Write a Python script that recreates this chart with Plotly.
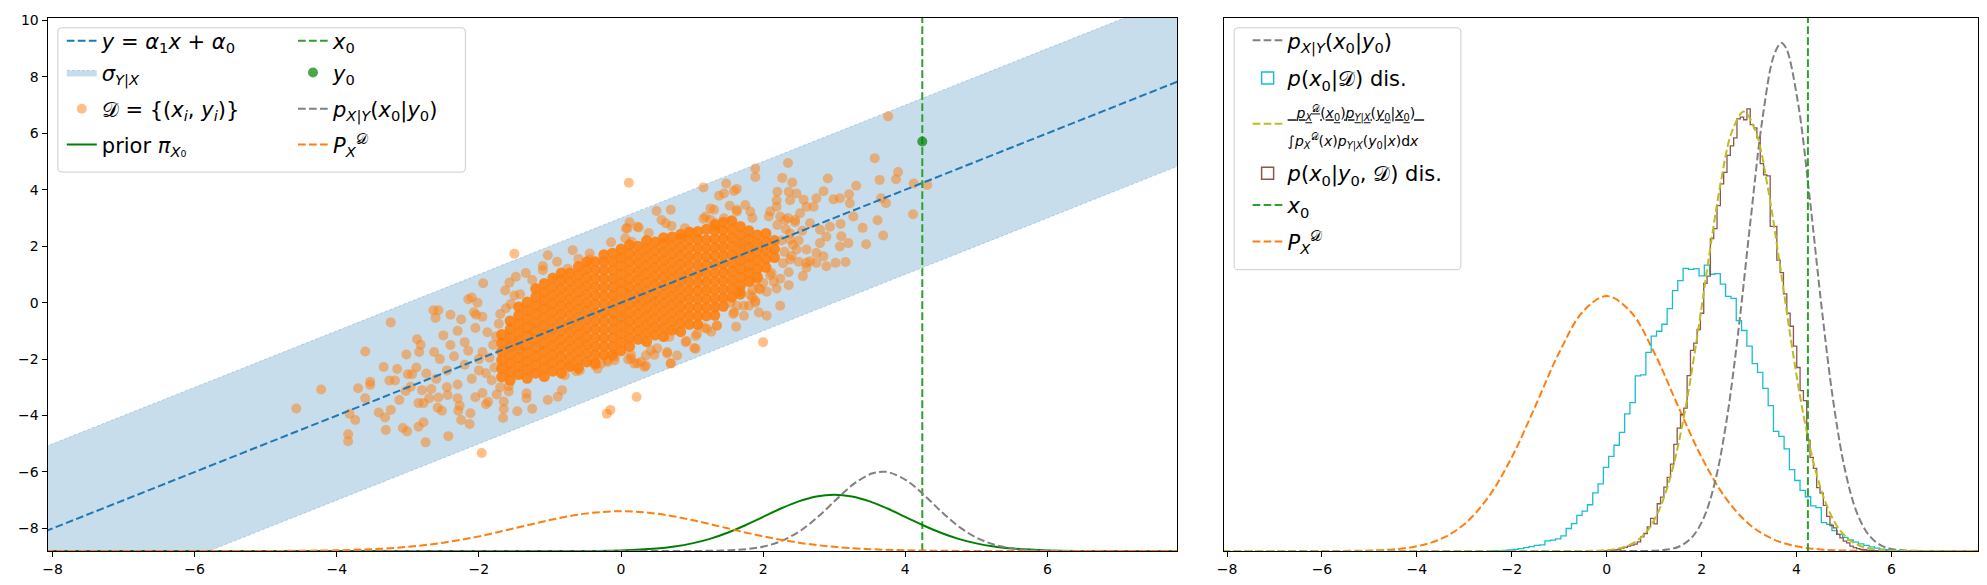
import plotly.graph_objects as go

# ---------------- data ----------------
X_RANGE = [-8.07, 7.83]
LEFT_Y_RANGE = [-8.8, 10.1]
RIGHT_Y_RANGE = [0.0, 0.59]
X_TICKS = [-8, -6, -4, -2, 0, 2, 4, 6]
LEFT_Y_TICKS = [-8, -6, -4, -2, 0, 2, 4, 6, 8, 10]

# regression line y = a1 x + a0 and +/- sigma band (end points)
line_x = [-8.1, 7.9]
line_y = [-8.1, 7.9]
band_x = [-8.1, 7.9, 7.9, -8.1]
band_y = [-5.1, 10.9, 4.9, -11.1]

# observed point
x0_value = 4.24
y0_value = 5.71

# dense core of the data cloud (columns of points)
core_col_x = [-1.68, -1.56, -1.44, -1.32, -1.2, -1.08, -0.96, -0.84, -0.72, -0.6, -0.48,
              -0.36, -0.24, -0.12, 0.0, 0.12, 0.24, 0.36, 0.48, 0.6, 0.72, 0.84, 0.96,
              1.08, 1.2, 1.32, 1.44, 1.56, 1.68, 1.8, 1.92, 2.04, 2.16]
core_col_y = [
    [-2.63, -2.33, -2.03, -1.73, -1.43, -1.13],
    [-2.75, -2.45, -2.15, -1.85, -1.55, -1.25, -0.95, -0.65],
    [-2.55, -2.25, -1.95, -1.65, -1.35, -1.05, -0.75, -0.45, -0.15],
    [-2.68, -2.38, -2.08, -1.78, -1.48, -1.18, -0.88, -0.58, -0.28, 0.02],
    [-2.5, -2.2, -1.9, -1.6, -1.3, -1.0, -0.7, -0.4, -0.1, 0.2, 0.5],
    [-2.62, -2.32, -2.02, -1.72, -1.42, -1.12, -0.82, -0.52, -0.22, 0.08, 0.38, 0.68],
    [-2.43, -2.13, -1.83, -1.53, -1.23, -0.93, -0.63, -0.33, -0.03, 0.27, 0.57, 0.87],
    [-2.5, -2.2, -1.9, -1.6, -1.3, -1.0, -0.7, -0.4, -0.1, 0.2, 0.5, 0.8, 1.05],
    [-2.25, -1.95, -1.65, -1.35, -1.05, -0.75, -0.45, -0.15, 0.15, 0.45, 0.75, 1.05],
    [-2.32, -2.02, -1.72, -1.42, -1.12, -0.82, -0.52, -0.22, 0.08, 0.38, 0.68, 0.98, 1.28],
    [-2.1, -1.8, -1.5, -1.2, -0.9, -0.6, -0.3, 0.0, 0.3, 0.6, 0.9, 1.2, 1.45],
    [-2.15, -1.85, -1.55, -1.25, -0.95, -0.65, -0.35, -0.05, 0.25, 0.55, 0.85, 1.15, 1.45],
    [-1.85, -1.55, -1.25, -0.95, -0.65, -0.35, -0.05, 0.25, 0.55, 0.85, 1.15, 1.45, 1.7],
    [-1.85, -1.55, -1.25, -0.95, -0.65, -0.35, -0.05, 0.25, 0.55, 0.85, 1.15, 1.45, 1.75],
    [-1.7, -1.4, -1.1, -0.8, -0.5, -0.2, 0.1, 0.4, 0.7, 1.0, 1.3, 1.6, 1.9],
    [-1.55, -1.25, -0.95, -0.65, -0.35, -0.05, 0.25, 0.55, 0.85, 1.15, 1.45, 1.75, 2.05],
    [-1.3, -1.0, -0.7, -0.4, -0.1, 0.2, 0.5, 0.8, 1.1, 1.4, 1.7, 2.0],
    [-1.38, -1.08, -0.78, -0.48, -0.18, 0.12, 0.42, 0.72, 1.02, 1.32, 1.62, 1.92, 2.2],
    [-1.15, -0.85, -0.55, -0.25, 0.05, 0.35, 0.65, 0.95, 1.25, 1.55, 1.85, 2.15],
    [-1.2, -0.9, -0.6, -0.3, 0.0, 0.3, 0.6, 0.9, 1.2, 1.5, 1.8, 2.1, 2.3],
    [-0.97, -0.67, -0.37, -0.07, 0.23, 0.53, 0.83, 1.13, 1.43, 1.73, 2.03, 2.33],
    [-1.03, -0.73, -0.43, -0.13, 0.17, 0.47, 0.77, 1.07, 1.37, 1.67, 1.97, 2.27, 2.42],
    [-0.77, -0.47, -0.17, 0.13, 0.43, 0.73, 1.03, 1.33, 1.63, 1.93, 2.23, 2.5],
    [-0.78, -0.48, -0.18, 0.12, 0.42, 0.72, 1.02, 1.32, 1.62, 1.92, 2.22, 2.52],
    [-0.47, -0.17, 0.13, 0.43, 0.73, 1.03, 1.33, 1.63, 1.93, 2.23, 2.6],
    [-0.45, -0.15, 0.15, 0.45, 0.75, 1.05, 1.35, 1.65, 1.95, 2.25, 2.55, 2.75],
    [-0.13, 0.17, 0.47, 0.77, 1.07, 1.37, 1.67, 1.97, 2.27, 2.57, 2.85],
    [0.2, 0.5, 0.8, 1.1, 1.4, 1.7, 2.0, 2.3, 2.6, 2.9],
    [0.3, 0.6, 0.9, 1.2, 1.5, 1.8, 2.1, 2.4, 2.7],
    [0.75, 1.05, 1.35, 1.65, 1.95, 2.25, 2.55],
    [0.9, 1.2, 1.5, 1.8, 2.1, 2.4],
    [1.25, 1.55, 1.85, 2.15, 2.45],
    [1.6, 1.9, 2.2],
]

# individual (outer) data points
fringe_points = [
    (0.11, 4.25), (-1.5, 1.73), (-3.24, -0.70), (-3.60, -1.73), (-4.22, -3.08), (-4.57, -3.75),
    (-3.70, -3.03), (-3.53, -2.80), (-3.53, -2.92), (-3.60, -3.39), (-3.82, -3.94), (-3.74, -4.16),
    (-3.84, -4.66), (-3.84, -4.91), (-3.34, -2.28), (-3.26, -2.76), (-3.18, -2.76), (-3.15, -2.35),
    (-3.41, -3.89), (-3.32, -4.07), (-3.31, -4.51), (-3.24, -3.80), (-3.07, -4.44), (-3.01, -4.56),
    (-2.85, -4.40), (-2.78, -4.24), (-2.75, -4.95), (-2.43, -4.73), (-1.96, -5.33), (-2.13, -4.30),
    (-2.25, -4.16), (-1.66, -4.09), (-1.46, -3.85), (-1.25, -3.76), (-1.65, -3.77), (-1.65, -3.50),
    (-0.20, -3.94), (-0.15, -3.80), (0.22, -3.34), (-1.94, 0.69), (-2.64, -0.27), (-2.57, -0.27),
    (-2.61, -0.54), (-2.40, -0.43), (-2.15, 0.12), (-2.10, 0.18), (-2.07, -0.34), (-2.04, -0.43),
    (-2.02, 0.0), (-1.03, 1.68), (-0.68, 1.86), (-0.44, 1.74), (-0.44, 1.53), (0.12, 2.85),
    (0.09, 2.64), (-0.14, 2.14), (-1.1, 1.30), (-1.1, 1.15), (-1.48, 0.92), (-1.34, 1.05),
    (-1.57, 0.71), (-1.63, 0.43), (-2.87, -1.30), (-2.82, -1.49), (-2.84, -1.75), (-3.02, -1.84),
    (-2.63, -1.75), (-2.50, -1.16), (-3.0, -2.54), (-2.94, -2.54), (-2.88, -2.30), (-3.03, -3.13),
    (-2.96, -2.98), (-2.80, -3.10), (-2.67, -3.06), (-2.74, -2.51), (-3.12, -3.45), (-2.85, -3.56),
    (-2.78, -3.56), (-2.70, -3.39), (-2.57, -3.36), (-2.52, -3.83), (-2.58, -3.72), (-2.44, -3.27),
    (-2.29, -3.83), (-2.27, -3.65), (-2.30, -3.39), (-2.12, -3.92), (-1.87, -3.51), (-1.75, -3.25),
    (-1.58, -3.15), (-1.33, -3.39), (-1.33, -3.21), (-1.03, -3.45), (-0.89, -3.33), (-0.83, -3.1),
    (-0.63, -2.43), (-0.33, -2.34), (-0.19, -2.10), (-0.09, -2.04), (0.1, -2.01), (0.19, -2.16),
    (0.33, -2.28), (0.06, 2.28), (0.15, 2.16),
    (-2.3, -1.0), (-2.2, -1.4), (-2.35, -1.9), (-2.2, -2.2), (-2.45, -2.4), (-2.1, -2.7),
    (-2.3, -2.9), (-1.95, -3.2), (-2.0, -2.0), (-2.15, -1.7), (-2.4, -1.5), (-2.05, -0.9),
    (-1.95, -0.5), (-2.25, -0.6), (-1.9, -3.6), (-2.05, -3.35), (-2.55, -2.0), (-2.6, -2.7),
    (-2.45, -3.0), (-0.9, 1.45), (-0.6, 1.55), (-1.25, 0.8), (-0.75, 1.2),
    (-1.82, -2.75), (-1.78, -2.3), (-1.85, -1.95), (-1.8, -1.5), (-1.76, -1.2), (-1.9, -2.5),
    (-1.95, -1.75), (-2.0, -2.4), (-1.88, -1.05), (-1.72, -0.75), (-1.7, -0.4), (-1.62, -0.2),
    (-1.55, -0.05), (-1.5, 0.25), (-1.42, 0.3), (-1.7, -3.0), (-1.58, -2.95),
    (2.28, 1.4), (2.3, 1.8), (2.26, 2.2), (2.32, 2.6), (2.4, 1.65), (2.42, 2.05), (2.38, 2.45),
    (2.45, 2.85), (2.5, 2.2), (2.55, 2.55), (2.5, 1.45), (2.35, 3.0), (2.2, 2.75), (2.12, 1.05),
    (2.0, 0.7), (1.85, 0.45),
    (3.76, 6.60), (3.57, 5.12), (2.35, 4.95), (1.89, 4.75), (1.89, 4.45), (3.90, 4.63),
    (3.87, 4.37), (3.64, 4.35), (2.91, 4.40), (2.27, 4.42), (2.41, 4.26), (4.12, 4.22),
    (4.31, 4.17), (4.11, 3.13), (3.31, 4.14), (1.16, 4.08), (1.48, 4.22), (1.38, 3.79),
    (1.45, 3.87), (1.59, 3.96), (1.63, 4.03), (3.66, 3.70), (3.73, 3.52), (3.61, 2.92),
    (3.69, 2.38), (3.45, 2.07), (3.40, 2.65), (3.21, 3.84), (3.08, 3.70), (3.22, 3.52),
    (3.27, 3.05), (3.09, 2.79), (3.10, 2.35), (3.20, 2.11), (3.08, 1.99), (3.02, 1.41),
    (3.16, 1.44), (2.85, 3.95), (2.99, 3.66), (2.75, 3.70), (2.71, 3.40), (2.56, 0.94),
    (2.61, 1.24), (2.66, 1.47), (2.36, 0.62), (2.24, -0.11), (2.05, -0.46), (1.94, -0.35),
    (2.0, -1.40), (1.62, -0.85), (1.58, -0.40), (1.80, -0.11), (1.89, 0.07), (1.35, -0.82),
    (1.27, -1.03), (1.17, -0.88), (0.92, -1.36), (1.05, -1.18), (1.03, -1.61), (0.70, -2.15),
    (0.65, -1.80), (0.51, -1.62), (0.47, -1.85), (0.35, -2.23), (0.23, -2.15), (0.14, -1.85),
    (0.50, 3.25), (0.70, 3.29), (0.63, 2.81), (0.07, 2.63), (0.23, 2.69), (1.16, 2.97),
    (1.26, 2.93), (1.31, 3.29), (1.53, 3.43), (1.63, 3.29), (1.75, 3.46), (1.82, 3.23),
    (2.20, 3.93), (2.19, 3.63), (2.36, 3.93), (2.38, 3.63), (2.47, 3.87), (2.57, 3.65),
    (2.61, 3.40), (2.52, 3.17), (2.45, 2.93), (2.19, 3.40), (2.10, 3.23), (2.08, 3.05),
    (2.24, 3.05), (2.31, 2.93), (2.66, 2.81), (2.80, 2.58), (2.94, 2.69), (2.89, 2.34),
    (2.80, 2.11), (2.38, 2.23), (2.47, 1.88), (2.61, 1.88), (2.75, 1.76), (2.85, 1.64),
    (2.75, 1.41), (2.89, 1.29), (2.61, 1.41), (2.38, 1.53), (2.36, 1.08), (2.24, 0.85),
    (2.10, 0.97), (2.19, 0.50), (2.05, 0.39), (2.15, 0.74), (1.94, 0.50), (1.82, 0.27),
    (1.73, -0.11), (1.63, -0.11), (1.54, 0.0), (1.68, 0.39), (1.89, 0.74),
    (0.25, 2.66), (0.39, 2.47), (0.57, 2.93), (0.71, 2.72), (0.9, 2.64), (1.01, 2.47),
    (1.26, 3.34), (1.45, 2.99), (1.63, 3.23), (1.85, 3.0), (1.19, 3.05), (1.33, 2.82),
    (1.68, 0.42), (1.85, 0.18), (1.89, 0.0), (1.96, 0.47), (1.59, -0.34), (1.73, -0.46),
    (1.35, -0.81), (1.21, -0.93), (1.07, -1.1), (0.91, -1.4), (1.05, -1.63), (0.68, -1.22),
    (0.65, -1.75), (0.79, -1.87), (0.70, -2.16), (0.42, -1.69), (0.35, -1.87), (0.28, -2.1),
    (0.14, -1.98), (-0.09, -1.92), (-0.19, -2.04), (-0.28, -2.16), (-0.37, -2.22),
    (-0.58, -2.4), (-0.72, -2.28), (-0.79, -2.57),
]

# densities (smooth curves), x and value lists
orange_x = [-8.1, -6.0, -5.0, -4.5, -4.0, -3.5, -3.0, -2.5, -2.0, -1.5, -1.0, -0.5, 0.0,
            0.5, 1.0, 1.5, 2.0, 2.5, 3.0, 3.5, 4.0, 4.5, 5.0, 6.0, 7.9]
orange_y = [0.0, 0.0, 0.0005, 0.0018, 0.0052, 0.0132, 0.0297, 0.0591, 0.1037, 0.1607, 0.2196,
            0.2649, 0.2820, 0.2649, 0.2196, 0.1607, 0.1037, 0.0591, 0.0297, 0.0132, 0.0052,
            0.0018, 0.0005, 0.0, 0.0]

gray_x = [-8.1, 0.5, 1.03, 1.28, 1.53, 1.78, 2.03, 2.28, 2.53, 2.78, 3.03, 3.28, 3.53, 3.68,
          3.78, 4.03, 4.28, 4.53, 4.78, 5.03, 5.28, 5.53, 5.78, 6.03, 6.28, 6.53, 7.0, 7.9]
gray_y = [0.0, 0.0, 0.0004, 0.0016, 0.0050, 0.0142, 0.0348, 0.0760, 0.1456, 0.2458, 0.3652,
          0.4773, 0.5492, 0.5620, 0.5563, 0.4960, 0.3895, 0.2689, 0.1635, 0.0876, 0.0413,
          0.0172, 0.0062, 0.0020, 0.0006, 0.0002, 0.0, 0.0]

green_x = [-8.1, -1.0, 0.0, 0.5, 0.75, 1.0, 1.25, 1.5, 1.75, 2.0, 2.25, 2.5, 2.75, 3.0,
           3.25, 3.5, 3.75, 4.0, 4.25, 4.5, 4.75, 5.0, 5.25, 5.5, 6.0, 7.0, 7.9]
green_y = [0.0, 0.0001, 0.0044, 0.0175, 0.0317, 0.0540, 0.0863, 0.1295, 0.1827, 0.2420,
           0.3012, 0.3521, 0.3867, 0.3990, 0.3867, 0.3521, 0.3012, 0.2420, 0.1827, 0.1295,
           0.0863, 0.0540, 0.0317, 0.0175, 0.0044, 0.0001, 0.0]

olive_x = [-8.1, -0.61, -0.11, 0.14, 0.39, 0.64, 0.89, 1.14, 1.39, 1.64, 1.89, 2.14, 2.39,
           2.64, 2.89, 3.14, 3.39, 3.64, 3.89, 4.14, 4.39, 4.64, 4.89, 5.14, 5.39, 5.64,
           5.89, 6.39, 7.9]
olive_y = [0.0, 0.0, 0.0006, 0.0018, 0.0047, 0.0113, 0.0248, 0.0499, 0.0912, 0.1521, 0.2311,
           0.3200, 0.4035, 0.4640, 0.4860, 0.4640, 0.4035, 0.3200, 0.2311, 0.1521, 0.0912,
           0.0499, 0.0248, 0.0113, 0.0047, 0.0018, 0.0006, 0.0, 0.0]

# histogram p(x0|D) (cyan): bin edges and densities
cyan_edges = [-2.422, -2.310, -2.198, -2.086, -1.974, -1.862, -1.750, -1.638, -1.526, -1.414,
              -1.302, -1.190, -1.078, -0.966, -0.854, -0.742, -0.630, -0.518, -0.406, -0.294,
              -0.182, -0.070, 0.042, 0.154, 0.266, 0.378, 0.490, 0.602, 0.714, 0.826,
              0.938, 1.050, 1.162, 1.274, 1.386, 1.498, 1.610, 1.722, 1.834, 1.946,
              2.058, 2.170, 2.282, 2.394, 2.506, 2.618, 2.730, 2.842, 2.954, 3.066,
              3.178, 3.290, 3.402, 3.514, 3.626, 3.738, 3.850, 3.962, 4.074, 4.186,
              4.298, 4.410, 4.522, 4.634, 4.746, 4.858, 4.970, 5.082, 5.194, 5.306,
              5.418, 5.530, 5.642, 5.754, 5.866, 5.978, 6.090, 6.202, 6.314]
cyan_vals = [0.0004, 0.0004, 0.0007, 0.0011, 0.0018, 0.0026, 0.0037, 0.0048, 0.0062, 0.0069,
             0.0113, 0.0121, 0.0135, 0.0168, 0.0249, 0.0303, 0.0395, 0.0442, 0.0512, 0.0644,
             0.0742, 0.0925, 0.1046, 0.1170, 0.1313, 0.1517, 0.1642, 0.1938, 0.1949, 0.2197,
             0.2377, 0.2431, 0.2508, 0.2680, 0.2881, 0.2991, 0.3127, 0.3116, 0.3123, 0.3043,
             0.3163, 0.3061, 0.3068, 0.2951, 0.2816, 0.2794, 0.2549, 0.2439, 0.2267, 0.2073,
             0.1975, 0.1799, 0.1609, 0.1324, 0.1269, 0.1130, 0.0900, 0.0780, 0.0670, 0.0600,
             0.0500, 0.0480, 0.0315, 0.0295, 0.0225, 0.0185, 0.0150, 0.0122, 0.0098, 0.0080,
             0.0062, 0.0045, 0.0033, 0.0022, 0.0015, 0.0008, 0.0005, 0.0003]

# histogram p(x0|y0,D) (brown): bin edges and densities
brown_edges = [-0.125, -0.055, 0.015, 0.085, 0.155, 0.225, 0.295, 0.365, 0.435, 0.505,
               0.575, 0.645, 0.715, 0.785, 0.855, 0.925, 0.995, 1.065, 1.135, 1.205,
               1.275, 1.345, 1.415, 1.485, 1.555, 1.625, 1.695, 1.765, 1.835, 1.905,
               1.975, 2.045, 2.115, 2.185, 2.255, 2.325, 2.395, 2.465, 2.535, 2.605,
               2.675, 2.745, 2.815, 2.885, 2.955, 3.025, 3.095, 3.165, 3.235, 3.305,
               3.375, 3.445, 3.515, 3.585, 3.655, 3.725, 3.795, 3.865, 3.935, 4.005,
               4.075, 4.145, 4.215, 4.285, 4.355, 4.425, 4.495, 4.565, 4.635, 4.705,
               4.775, 4.845, 4.915, 4.985, 5.055, 5.125, 5.195, 5.265, 5.335, 5.405,
               5.475, 5.545, 5.615, 5.685, 5.755, 5.825, 5.895]
brown_vals = [0.0002, 0.0002, 0.0004, 0.0007, 0.0011, 0.0018, 0.0030, 0.0040, 0.0055, 0.0066,
              0.0077, 0.0102, 0.0157, 0.0194, 0.0267, 0.0360, 0.0300, 0.0523, 0.0596, 0.0706,
              0.0815, 0.0960, 0.1180, 0.1360, 0.1510, 0.1580, 0.1940, 0.2220, 0.2300, 0.2450,
              0.2630, 0.2960, 0.3040, 0.3455, 0.3565, 0.3820, 0.4060, 0.4187, 0.4377, 0.4480,
              0.4570, 0.4780, 0.4800, 0.4770, 0.4890, 0.4717, 0.4680, 0.4570, 0.4285, 0.4160,
              0.4150, 0.3590, 0.3590, 0.3218, 0.3080, 0.2845, 0.2630, 0.2486, 0.2267, 0.2030,
              0.1773, 0.1664, 0.1225, 0.1035, 0.0914, 0.0702, 0.0640, 0.0505, 0.0384, 0.0282,
              0.0256, 0.0183, 0.0146, 0.0110, 0.0091, 0.0055, 0.0037, 0.0026, 0.0018, 0.0015,
              0.0007, 0.0007, 0.0004, 0.0003, 0.0002, 0.0002]

# ---------------- styling ----------------
C_BLUE = '#1f77b4'
C_ORANGE = '#ff7f0e'
C_GREEN = '#2ca02c'
C_PRIOR = '#008000'
C_GRAY = '#808080'
C_CYAN = '#17becf'
C_OLIVE = '#bcbd22'
C_BROWN = '#8c564b'
DASH = '7.7px,3.3px'
FONT = 'DejaVu Sans'
LEG_FONT = 21
D = '𝒟'
W = 1987.0
H = 585.0

# legend entry positions (left edge in px, vertical centre in px)
LEG_POS = {
    'line': (55, 36.5), 'band': (55, 68.5), 'data': (55, 105), 'prior': (55, 141),
    'x0L': (287, 36.5), 'y0': (287, 68.5), 'pxyL': (287, 105), 'pxdL': (287, 141),
    'pxyR': (1245, 36), 'cyan': (1245, 74), 'frac': (1245, 120), 'brown': (1245, 170),
    'x0R': (1245, 202), 'pxdR': (1245, 239),
}
LEG_IDS = {k: ('legend' if i == 0 else f'legend{i + 1}') for i, k in enumerate(LEG_POS)}


def step_outline(edges, vals):
    n = min(len(vals), len(edges) - 1)
    xs = [edges[0]] + list(edges[:n + 1])
    ys = [0.0] + list(vals[:n]) + [0.0]
    return xs, ys


core_x, core_y = [], []
for cx, col in zip(core_col_x, core_col_y):
    for cy in col:
        core_x.append(cx)
        core_y.append(cy)
fringe_x = [p[0] for p in fringe_points]
fringe_y = [p[1] for p in fringe_points]

lbl_line = '<i>y</i> = <i>α</i><sub>1</sub><i>x</i> + <i>α</i><sub>0</sub>'
lbl_band = '<i>σ</i><sub><i>Y</i>|<i>X</i></sub>'
lbl_data = D + ' = {(<i>x<sub>i</sub></i>, <i>y<sub>i</sub></i>)}'
lbl_prior = 'prior <i>π</i><sub><i>X</i>₀</sub>'
lbl_x0 = '<i>x</i><sub>0</sub>'
lbl_y0 = '<i>y</i><sub>0</sub>'
lbl_pxy = '<i>p</i><sub><i>X</i>|<i>Y</i></sub>(<i>x</i><sub>0</sub>|<i>y</i><sub>0</sub>)'
lbl_pxd = '<i>P</i><sub><i>X</i></sub><sup>' + D + '</sup>'
lbl_cyan = '<i>p</i>(<i>x</i><sub>0</sub>|' + D + ') dis.'
lbl_brown = '<i>p</i>(<i>x</i><sub>0</sub>|<i>y</i><sub>0</sub>, ' + D + ') dis.'
lbl_frac = ('<span style="font-size:14px;text-decoration:underline">'
            '  <i>p</i><sub><i>X</i></sub><sup>' + D + '</sup>(<i>x</i><sub>0</sub>)'
            '<i>p</i><sub><i>Y</i>|<i>X</i></sub>(<i>y</i><sub>0</sub>|<i>x</i><sub>0</sub>)  </span><br>'
            '<span style="font-size:14px">∫<i>p</i><sub><i>X</i></sub><sup>' + D + '</sup>(<i>x</i>)'
            '<i>p</i><sub><i>Y</i>|<i>X</i></sub>(<i>y</i><sub>0</sub>|<i>x</i>)d<i>x</i></span>')

fig = go.Figure()

# ----- left panel -----
fig.add_trace(go.Scatter(x=band_x, y=band_y, fill='toself', mode='lines',
                         fillcolor='rgba(31,119,180,0.25)',
                         line=dict(color='rgba(31,119,180,0.35)', width=0.8, dash='3px,2px'),
                         name=lbl_band, legend=LEG_IDS['band'], hoverinfo='skip'))
fig.add_trace(go.Scatter(x=core_x, y=core_y, mode='markers',
                         marker=dict(color=C_ORANGE, size=11, opacity=0.9, line=dict(width=0)),
                         showlegend=False, hoverinfo='skip'))
fig.add_trace(go.Scatter(x=fringe_x, y=fringe_y, mode='markers',
                         marker=dict(color=C_ORANGE, size=10, opacity=0.5, line=dict(width=0)),
                         name=lbl_data, legend=LEG_IDS['data']))
fig.add_trace(go.Scatter(x=line_x, y=line_y, mode='lines',
                         line=dict(color=C_BLUE, width=2, dash=DASH),
                         name=lbl_line, legend=LEG_IDS['line']))
fig.add_trace(go.Scatter(x=green_x, y=green_y, mode='lines', yaxis='y3',
                         line=dict(color=C_PRIOR, width=2, shape='spline'),
                         name=lbl_prior, legend=LEG_IDS['prior']))
fig.add_trace(go.Scatter(x=[x0_value, x0_value], y=LEFT_Y_RANGE, mode='lines',
                         line=dict(color=C_GREEN, width=2, dash=DASH),
                         name=lbl_x0, legend=LEG_IDS['x0L']))
fig.add_trace(go.Scatter(x=[x0_value], y=[y0_value], mode='markers',
                         marker=dict(color='rgba(0,128,0,0.7)', size=10),
                         name=lbl_y0, legend=LEG_IDS['y0']))
fig.add_trace(go.Scatter(x=gray_x, y=gray_y, mode='lines', yaxis='y3',
                         line=dict(color=C_GRAY, width=2, dash=DASH, shape='spline'),
                         name=lbl_pxy, legend=LEG_IDS['pxyL']))
fig.add_trace(go.Scatter(x=orange_x, y=orange_y, mode='lines', yaxis='y3',
                         line=dict(color=C_ORANGE, width=2, dash=DASH, shape='spline'),
                         name=lbl_pxd, legend=LEG_IDS['pxdL']))

# ----- right panel -----
cx_, cy_ = step_outline(cyan_edges, cyan_vals)
bx_, by_ = step_outline(brown_edges, brown_vals)
fig.add_trace(go.Scatter(x=orange_x, y=orange_y, mode='lines', xaxis='x2', yaxis='y2',
                         line=dict(color=C_ORANGE, width=2, dash=DASH, shape='spline'),
                         name=lbl_pxd, legend=LEG_IDS['pxdR']))
fig.add_trace(go.Scatter(x=gray_x, y=gray_y, mode='lines', xaxis='x2', yaxis='y2',
                         line=dict(color=C_GRAY, width=2, dash=DASH, shape='spline'),
                         name=lbl_pxy, legend=LEG_IDS['pxyR']))
fig.add_trace(go.Scatter(x=cx_, y=cy_, mode='lines', xaxis='x2', yaxis='y2',
                         line=dict(color=C_CYAN, width=1.3, shape='hv'),
                         showlegend=False, hoverinfo='skip'))
fig.add_trace(go.Bar(x=[None], y=[None], xaxis='x2', yaxis='y2',
                     marker=dict(color='rgba(0,0,0,0)', line=dict(color=C_CYAN, width=1.5)),
                     name=lbl_cyan, legend=LEG_IDS['cyan']))
fig.add_trace(go.Scatter(x=bx_, y=by_, mode='lines', xaxis='x2', yaxis='y2',
                         line=dict(color=C_BROWN, width=1.3, shape='hv'),
                         showlegend=False, hoverinfo='skip'))
fig.add_trace(go.Bar(x=[None], y=[None], xaxis='x2', yaxis='y2',
                     marker=dict(color='rgba(0,0,0,0)', line=dict(color=C_BROWN, width=1.5)),
                     name=lbl_brown, legend=LEG_IDS['brown']))
fig.add_trace(go.Scatter(x=olive_x, y=olive_y, mode='lines', xaxis='x2', yaxis='y2',
                         line=dict(color=C_OLIVE, width=2, dash=DASH, shape='spline'),
                         name=lbl_frac, legend=LEG_IDS['frac']))
fig.add_trace(go.Scatter(x=[x0_value, x0_value], y=RIGHT_Y_RANGE, mode='lines',
                         xaxis='x2', yaxis='y2',
                         line=dict(color=C_GREEN, width=2, dash=DASH),
                         name=lbl_x0, legend=LEG_IDS['x0R']))

# ----- layout -----
axis_common = dict(showline=True, mirror=True, linecolor='black', linewidth=1.1,
                   showgrid=False, zeroline=False, ticks='outside', ticklen=5,
                   tickwidth=1.1, tickcolor='black',
                   tickfont=dict(family=FONT, size=14, color='black'))
Y_DOMAIN = [0.0586, 0.9783]


def rounded_box(x0, y0, x1, y1, rx=0.002, ry=0.007):
    return (f'M {x0 + rx},{y0} L {x1 - rx},{y0} Q {x1},{y0} {x1},{y0 + ry} '
            f'L {x1},{y1 - ry} Q {x1},{y1} {x1 - rx},{y1} L {x0 + rx},{y1} '
            f'Q {x0},{y1} {x0},{y1 - ry} L {x0},{y0 + ry} Q {x0},{y0} {x0 + rx},{y0} Z')


legends = {}
for key, (px, py) in LEG_POS.items():
    legends[LEG_IDS[key]] = dict(x=px / W, y=1 - py / H, xanchor='left', yanchor='middle',
                                 bgcolor='rgba(0,0,0,0)', borderwidth=0,
                                 font=dict(family=FONT, size=LEG_FONT, color='black'))

fig.update_layout(
    width=1987, height=585,
    margin=dict(l=0, r=0, t=0, b=0),
    paper_bgcolor='white', plot_bgcolor='white',
    font=dict(family=FONT, size=14, color='black'),
    showlegend=True,
    barmode='overlay',
    xaxis=dict(domain=[0.0205, 0.5911], range=X_RANGE, tickvals=X_TICKS, anchor='y',
               **axis_common),
    yaxis=dict(domain=Y_DOMAIN, range=LEFT_Y_RANGE, tickvals=LEFT_Y_TICKS, anchor='x',
               **axis_common),
    yaxis3=dict(overlaying='y', anchor='x', range=[0, 3.78], visible=False),
    xaxis2=dict(domain=[0.6145, 0.9956], range=X_RANGE, tickvals=X_TICKS, anchor='y2',
                **axis_common),
    yaxis2=dict(domain=Y_DOMAIN, range=RIGHT_Y_RANGE, anchor='x2', showline=True, mirror=True,
                linecolor='black', linewidth=1.1, showgrid=False, zeroline=False,
                ticks='', showticklabels=False),
    shapes=[
        dict(type='path', xref='paper', yref='paper', layer='above',
             path=rounded_box(51 / W, 1 - 168.5 / H, 460 / W, 1 - 23 / H),
             fillcolor='rgba(255,255,255,0.8)', line=dict(color='rgb(204,204,204)', width=1)),
        dict(type='path', xref='paper', yref='paper', layer='above',
             path=rounded_box(1231.5 / W, 1 - 267 / H, 1459 / W, 1 - 23 / H),
             fillcolor='rgba(255,255,255,0.8)', line=dict(color='rgb(204,204,204)', width=1)),
    ],
    **legends,
)

fig.write_html('out.html',
               config={'displayModeBar': False},
               post_script="document.body.style.margin='0';"
                           "document.body.style.overflow='hidden';")
